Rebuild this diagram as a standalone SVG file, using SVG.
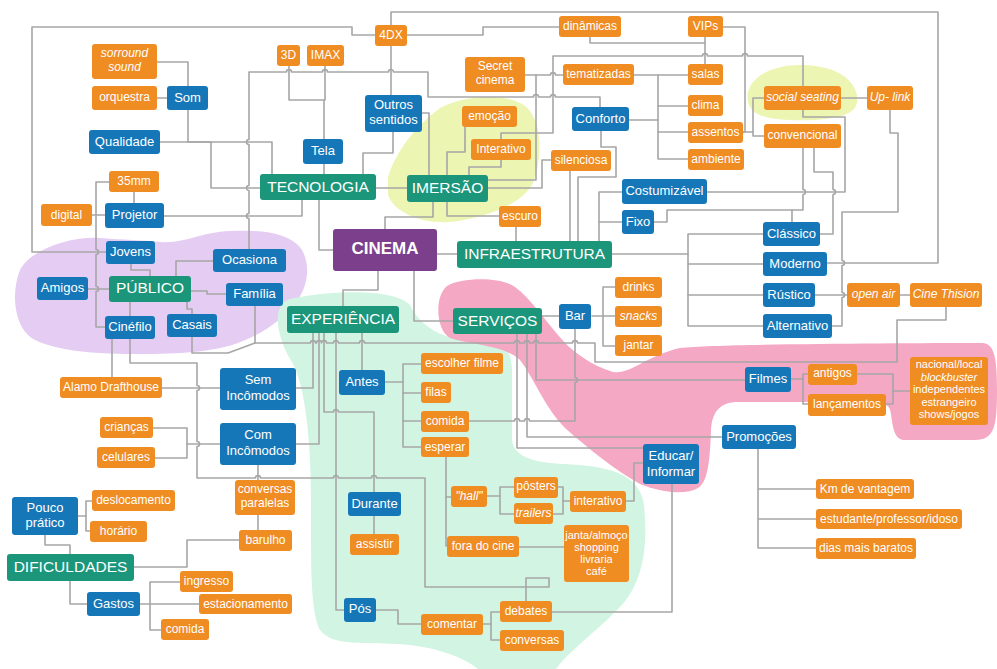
<svg xmlns="http://www.w3.org/2000/svg" width="997" height="669" viewBox="0 0 997 669">
  <style>
    .blob { stroke: none; }
    .links path { fill: none; stroke: #A6A6A6; stroke-width: 1.6; stroke-linejoin: round; stroke-linecap: round; }
    .o rect { fill: #EF8C22; }
    .b rect { fill: #1677B8; }
    .g rect { fill: #1B967A; }
    .c rect { fill: #7C3F8B; }
    text { fill: #FFFFFF; font-family: "Liberation Sans", Arial, sans-serif; text-anchor: middle; dominant-baseline: central; }
    .o text { font-size: 12px; }
    .b text { font-size: 13px; }
    .g text { font-size: 15.5px; }
    .c text { font-size: 17px; font-weight: bold; }
    .it { font-style: italic; }
    .sm { font-size: 11px !important; }
  </style>

  <!-- background regions -->
  <g id="regions">
    <path class="blob" fill="#E4CCF3" d="M20 270 C 30 250, 70 236, 100 238 C 125 240, 140 240, 160 242 C 185 244, 200 232, 230 231 C 260 230, 290 232, 302 250 C 312 268, 306 290, 296 302 C 285 318, 262 335, 235 344 C 210 352, 180 354, 140 354 C 100 354, 60 352, 35 340 C 15 330, 10 295, 20 270 Z"/>
    <path class="blob" fill="#EDF5B3" d="M388 178 C 392 160, 410 130, 440 108 C 465 95, 505 92, 525 106 C 543 120, 543 160, 532 185 C 520 205, 485 218, 450 222 C 420 224, 394 212, 388 195 Z"/>
    <path class="blob" fill="#EDF5B3" d="M748 92 C 752 75, 775 65, 800 65 C 830 65, 852 75, 857 95 C 860 112, 845 118, 815 120 C 790 121, 762 120, 752 110 C 747 104, 747 98, 748 92 Z"/>
    <path class="blob" fill="#D2F5E3" d="M290 299 C 330 290, 395 288, 410 305 C 420 325, 440 342, 488 342 C 506 342, 512 352, 512 372 L 512 438 C 512 456, 532 463, 565 464 C 605 466, 640 472, 644 505 C 648 545, 644 582, 620 607 C 596 632, 570 650, 556 669 L 478 669 C 462 656, 432 646, 398 644 C 360 642, 332 646, 320 630 C 310 612, 311 560, 311 500 C 311 440, 305 385, 292 362 C 280 345, 268 305, 290 299 Z"/>
    <path class="blob" fill="#F5A8C3" d="M447 286 C 460 278, 500 276, 515 287 C 530 298, 545 320, 558 335 C 570 350, 590 365, 613 372 C 630 375, 648 355, 680 348 C 720 344, 900 343, 982 343 C 995 343, 997 360, 997 390 C 997 425, 995 440, 975 440 L 905 440 C 895 440, 893 430, 891 414 C 890 405, 885 402, 870 402 L 738 402 C 722 402, 712 410, 711 430 C 710 460, 708 482, 698 488 C 685 496, 660 492, 640 484 C 615 470, 590 450, 565 428 C 545 408, 535 380, 520 360 C 505 345, 470 345, 450 338 C 436 330, 434 297, 447 286 Z"/>
  </g>

  <!-- connectors (small arcs mark crossings) -->
  <g id="connectors" class="links">
    <path d="M106 252 H32 V27 H352 V35 H375"/>
    <path d="M391 25 V12 H938 V263 H827"/>
    <path d="M391 46 V95"/>
    <path d="M407 35 H483 V27 H559"/>
    <path d="M590 37 V43 H705"/>
    <path d="M705 37 V64"/>
    <path d="M723 27 H745 V132 H743"/>
    <path d="M743 132 H753 V98 H764"/>
    <path d="M753 132 V136 H764"/>
    <path d="M501 139 V133 H553 V56 H702.5 a2.5 2.5 0 0 1 5 0 H742.5 a2.5 2.5 0 0 1 5 0 H803 V86"/>
    <path d="M707 192 H845 V117 H803 V110"/>
    <path d="M841 98 H867"/>
    <path d="M890 110 V133 H898 V212 H842 V260.5 a2.5 2.5 0 0 1 0 5 V292.5 a2.5 2.5 0 0 1 0 5 V326 H832"/>
    <path d="M803 148 V189.5 a2.5 2.5 0 0 1 0 5 V210 H667 V222 H654"/>
    <path d="M792 210 V222"/>
    <path d="M814 148 V172 H833 V189.5 a2.5 2.5 0 0 1 0 5 V234 H820"/>
    <path d="M525 75 H550.5 a2.5 2.5 0 0 1 5 0 H563"/>
    <path d="M634 75 H688"/>
    <path d="M658 75 V159 H688"/>
    <path d="M658 106 H688"/>
    <path d="M658 132 H688"/>
    <path d="M629 120 H658"/>
    <path d="M488 180 H536 V75"/>
    <path d="M488 188 H542 V160 H551"/>
    <path d="M469 175 V167 H501 V160"/>
    <path d="M447 175 V152 H465 V127"/>
    <path d="M422 113 H429 V175"/>
    <path d="M363 174 V153 H393 V132"/>
    <path d="M376 188 H407"/>
    <path d="M324 164 V174"/>
    <path d="M289 66 V100 H325 V66"/>
    <path d="M324 100 V139"/>
    <path d="M249 249 V218.5 a2.5 2.5 0 0 1 0 -5 V190.5 a2.5 2.5 0 0 1 0 -5 V144.5 a2.5 2.5 0 0 1 0 -5 V72 H286.5 a2.5 2.5 0 0 1 5 0 H322.5 a2.5 2.5 0 0 1 5 0 H388.5 a2.5 2.5 0 0 1 5 0 H428 V97 H533.5 a2.5 2.5 0 0 1 5 0 H550.5 a2.5 2.5 0 0 1 5 0 H600 V107"/>
    <path d="M160 142 H272 V174"/>
    <path d="M188 110 V142 H211 V188 H260"/>
    <path d="M157 62 H188 V86"/>
    <path d="M157 98 H167"/>
    <path d="M164 216 H302 V200"/>
    <path d="M134 192 V203"/>
    <path d="M92 215 H105"/>
    <path d="M109 182 H96 V249.5 a2.5 2.5 0 0 1 0 5 V286.5 a2.5 2.5 0 0 1 0 5 V327 H105"/>
    <path d="M319 200 V250 H333"/>
    <path d="M433 202 V217 H385 V229"/>
    <path d="M447 202 V216 H499"/>
    <path d="M516 227 V241"/>
    <path d="M570 171 V241"/>
    <path d="M601 131 V147 H616 V177 H578 V241"/>
    <path d="M599 241 V192 H622"/>
    <path d="M599 222 H622"/>
    <path d="M437 254 H457"/>
    <path d="M612 254 H688"/>
    <path d="M763 234 H688 V326 H763"/>
    <path d="M688 264 H763"/>
    <path d="M688 295 H763"/>
    <path d="M815 295 H847"/>
    <path d="M900 295 H910"/>
    <path d="M255 306 V343 H310.5 a2.5 2.5 0 0 1 5 0 H316.5 a2.5 2.5 0 0 1 5 0 H321.5 a2.5 2.5 0 0 1 5 0 H333.5 a2.5 2.5 0 0 1 5 0 H359.5 a2.5 2.5 0 0 1 5 0 H514.5 a2.5 2.5 0 0 1 5 0 H524.5 a2.5 2.5 0 0 1 5 0 H533.5 a2.5 2.5 0 0 1 5 0 H572.5 a2.5 2.5 0 0 1 5 0 H595 V362 H897 V320 H946 V307"/>
    <path d="M192 337 V353 H228 L255 343"/>
    <path d="M378 271 V290 H343 V306"/>
    <path d="M414 271 V321 H453"/>
    <path d="M542 316 H559"/>
    <path d="M592 316 H615"/>
    <path d="M615 287 H603 V346 H615"/>
    <path d="M517 334 V448 H643"/>
    <path d="M527 334 V437 H722"/>
    <path d="M536 334 V380 H745"/>
    <path d="M575 329 V377.5 a2.5 2.5 0 0 1 0 5 V421 H529.5 a2.5 2.5 0 0 0 -5 0 H519.5 a2.5 2.5 0 0 0 -5 0 H469"/>
    <path d="M791 379 H803"/>
    <path d="M808 374 H803 V404 H808"/>
    <path d="M857 374 H893 V404 H886"/>
    <path d="M893 391 H910"/>
    <path d="M758 449 V548 H816"/>
    <path d="M758 489 H816"/>
    <path d="M758 519 H816"/>
    <path d="M131 264 V270 H150 V276"/>
    <path d="M176 276 V261 H213"/>
    <path d="M191 291 H207 V294 H226"/>
    <path d="M88 289 H109"/>
    <path d="M130 302 V316"/>
    <path d="M187 302 V309 H192 V314"/>
    <path d="M112 339 V377"/>
    <path d="M130 339 V363 H197 V385.5 a2.5 2.5 0 0 1 0 5 V441.5 a2.5 2.5 0 0 1 0 5 V478 H255.5 a2.5 2.5 0 0 1 5 0 H333.5 a2.5 2.5 0 0 1 5 0 H371.5 a2.5 2.5 0 0 1 5 0 H425 V587 H549 V578 H526 V601"/>
    <path d="M162 388 H220"/>
    <path d="M313 333 V388 H296"/>
    <path d="M319 333 V444 H296"/>
    <path d="M324 333 V412 H333.5 a2.5 2.5 0 0 1 5 0 H374 V492"/>
    <path d="M336 333 V610 H344"/>
    <path d="M362 333 V370"/>
    <path d="M220 444 H187 V428 H153"/>
    <path d="M187 444 V458 H155"/>
    <path d="M258 465 V480"/>
    <path d="M258 515 V530"/>
    <path d="M134 567 H187 V540 H239"/>
    <path d="M70 554 V545 H45 V535"/>
    <path d="M70 581 V604 H87"/>
    <path d="M140 604 H199"/>
    <path d="M180 582 H150 V630 H161"/>
    <path d="M78 516 H86"/>
    <path d="M92 501 H86 V531 H90"/>
    <path d="M385 382 H403"/>
    <path d="M421 364 H403 V447 H421"/>
    <path d="M403 393 H421"/>
    <path d="M403 421 H421"/>
    <path d="M446 457 V546 H447"/>
    <path d="M446 497 H451"/>
    <path d="M487 496 H500"/>
    <path d="M514 487 H500 V514 H514"/>
    <path d="M558 487 H563 V514 H553"/>
    <path d="M563 501 H570"/>
    <path d="M626 501 H634 V463 H643"/>
    <path d="M519 547 H564"/>
    <path d="M374 516 V534"/>
    <path d="M376 610 H398 V624 H421"/>
    <path d="M483 624 H491"/>
    <path d="M500 612 H491 V640 H500"/>
    <path d="M552 612 H672 V484"/>
  </g>

  <!-- nodes -->
  <g id="n-sorround" class="o"><rect x="92" y="44" width="65" height="35" rx="3"/><text class="it" x="124.5" y="53">sorround</text><text class="it" x="124.5" y="67">sound</text></g>
  <g id="n-orquestra" class="o"><rect x="92" y="86" width="65" height="24" rx="3"/><text x="124.5" y="97">orquestra</text></g>
  <g id="n-som" class="b"><rect x="167" y="86" width="41" height="24" rx="3"/><text x="187.5" y="97">Som</text></g>
  <g id="n-qualidade" class="b"><rect x="89" y="130" width="71" height="24" rx="3"/><text x="124.5" y="141">Qualidade</text></g>
  <g id="n-35mm" class="o"><rect x="109" y="171" width="50" height="21" rx="3"/><text x="134" y="181">35mm</text></g>
  <g id="n-projetor" class="b"><rect x="105" y="203" width="59" height="25" rx="3"/><text x="134.5" y="214.5">Projetor</text></g>
  <g id="n-digital" class="o"><rect x="41" y="204" width="51" height="22" rx="3"/><text x="66.5" y="214.5">digital</text></g>
  <g id="n-3d" class="o"><rect x="277" y="45" width="23" height="21" rx="3"/><text x="288.5" y="55">3D</text></g>
  <g id="n-imax" class="o"><rect x="307" y="45" width="37" height="21" rx="3"/><text x="325.5" y="55">IMAX</text></g>
  <g id="n-tela" class="b"><rect x="303" y="139" width="40" height="25" rx="3"/><text x="323" y="150.5">Tela</text></g>
  <g id="n-tecnologia" class="g"><rect x="260" y="174" width="116" height="26" rx="3"/><text x="318" y="186">TECNOLOGIA</text></g>
  <g id="n-4dx" class="o"><rect x="375" y="25" width="32" height="21" rx="3"/><text x="391" y="35">4DX</text></g>
  <g id="n-dinamicas" class="o"><rect x="559" y="16" width="62" height="21" rx="3"/><text x="590" y="26">dinâmicas</text></g>
  <g id="n-secret" class="o"><rect x="465" y="57" width="60" height="35" rx="3"/><text x="495" y="66">Secret</text><text x="495" y="80">cinema</text></g>
  <g id="n-outros" class="b"><rect x="365" y="95" width="57" height="37" rx="3"/><text x="393.5" y="104">Outros</text><text x="393.5" y="119">sentidos</text></g>
  <g id="n-emocao" class="o"><rect x="462" y="106" width="55" height="21" rx="3"/><text x="489.5" y="116">emoção</text></g>
  <g id="n-interativo1" class="o"><rect x="471" y="139" width="60" height="21" rx="3"/><text x="501" y="149">Interativo</text></g>
  <g id="n-imersao" class="g"><rect x="407" y="175" width="81" height="27" rx="3"/><text x="447.5" y="187.5">IMERSÃO</text></g>
  <g id="n-silenciosa" class="o"><rect x="551" y="150" width="60" height="21" rx="3"/><text x="581" y="160">silenciosa</text></g>
  <g id="n-tematizadas" class="o"><rect x="563" y="64" width="71" height="21" rx="3"/><text x="598.5" y="74">tematizadas</text></g>
  <g id="n-conforto" class="b"><rect x="572" y="107" width="57" height="24" rx="3"/><text x="600.5" y="118">Conforto</text></g>
  <g id="n-escuro" class="o"><rect x="499" y="206" width="42" height="21" rx="3"/><text x="520" y="216">escuro</text></g>
  <g id="n-costumizavel" class="b"><rect x="622" y="179" width="85" height="25" rx="3"/><text x="664.5" y="190.5">Costumizável</text></g>
  <g id="n-fixo" class="b"><rect x="622" y="210" width="32" height="24" rx="3"/><text x="638" y="221">Fixo</text></g>
  <g id="n-vips" class="o"><rect x="688" y="16" width="35" height="21" rx="3"/><text x="705.5" y="26">VIPs</text></g>
  <g id="n-salas" class="o"><rect x="688" y="64" width="35" height="21" rx="3"/><text x="705.5" y="74">salas</text></g>
  <g id="n-clima" class="o"><rect x="688" y="95" width="35" height="21" rx="3"/><text x="705.5" y="105">clima</text></g>
  <g id="n-assentos" class="o"><rect x="688" y="122" width="55" height="21" rx="3"/><text x="715.5" y="132">assentos</text></g>
  <g id="n-ambiente" class="o"><rect x="688" y="149" width="56" height="21" rx="3"/><text x="716" y="159">ambiente</text></g>
  <g id="n-social" class="o"><rect x="764" y="86" width="77" height="24" rx="3"/><text class="it" x="802.5" y="97">social seating</text></g>
  <g id="n-uplink" class="o"><rect x="867" y="86" width="46" height="24" rx="3"/><text class="it" x="890" y="97">Up- link</text></g>
  <g id="n-convencional" class="o"><rect x="764" y="124" width="77" height="24" rx="3"/><text x="802.5" y="135">convencional</text></g>
  <g id="n-classico" class="b"><rect x="763" y="222" width="57" height="24" rx="3"/><text x="791.5" y="233">Clássico</text></g>
  <g id="n-moderno" class="b"><rect x="763" y="252" width="64" height="24" rx="3"/><text x="795" y="263">Moderno</text></g>
  <g id="n-rustico" class="b"><rect x="763" y="283" width="52" height="24" rx="3"/><text x="789" y="294">Rústico</text></g>
  <g id="n-alternativo" class="b"><rect x="763" y="314" width="69" height="24" rx="3"/><text x="797.5" y="325">Alternativo</text></g>
  <g id="n-openair" class="o"><rect x="847" y="283" width="53" height="24" rx="3"/><text class="it" x="873.5" y="294">open air</text></g>
  <g id="n-thision" class="o"><rect x="910" y="283" width="72" height="24" rx="3"/><text class="it" x="946" y="294">Cine Thision</text></g>
  <g id="n-infra" class="g"><rect x="457" y="241" width="155" height="27" rx="3"/><text x="534.5" y="253.5">INFRAESTRUTURA</text></g>
  <g id="n-cinema" class="c"><rect x="333" y="229" width="104" height="42" rx="3"/><text x="385" y="248">CINEMA</text></g>
  <g id="n-servicos" class="g"><rect x="453" y="308" width="89" height="26" rx="3"/><text x="497.5" y="320">SERVIÇOS</text></g>
  <g id="n-bar" class="b"><rect x="559" y="304" width="32" height="25" rx="3"/><text x="575" y="315">Bar</text></g>
  <g id="n-drinks" class="o"><rect x="615" y="277" width="47" height="21" rx="3"/><text x="638.5" y="287">drinks</text></g>
  <g id="n-snacks" class="o"><rect x="615" y="306" width="47" height="21" rx="3"/><text class="it" x="638.5" y="316">snacks</text></g>
  <g id="n-jantar" class="o"><rect x="615" y="335" width="47" height="21" rx="3"/><text x="638.5" y="345">jantar</text></g>
  <g id="n-experiencia" class="g"><rect x="287" y="306" width="112" height="27" rx="3"/><text x="343" y="318">EXPERIÊNCIA</text></g>
  <g id="n-antes" class="b"><rect x="339" y="370" width="46" height="25" rx="3"/><text x="362" y="381">Antes</text></g>
  <g id="n-escolher" class="o"><rect x="421" y="353" width="82" height="21" rx="3"/><text x="462" y="363">escolher filme</text></g>
  <g id="n-filas" class="o"><rect x="421" y="382" width="30" height="21" rx="3"/><text x="436" y="392">filas</text></g>
  <g id="n-comida1" class="o"><rect x="421" y="411" width="48" height="21" rx="3"/><text x="445" y="421">comida</text></g>
  <g id="n-esperar" class="o"><rect x="421" y="437" width="48" height="20" rx="3"/><text x="445" y="446.5">esperar</text></g>
  <g id="n-sem" class="b"><rect x="220" y="368" width="76" height="42" rx="3"/><text x="258" y="379">Sem</text><text x="258" y="395">Incômodos</text></g>
  <g id="n-com" class="b"><rect x="220" y="423" width="76" height="42" rx="3"/><text x="258" y="434">Com</text><text x="258" y="450">Incômodos</text></g>
  <g id="n-alamo" class="o"><rect x="60" y="377" width="102" height="21" rx="3"/><text x="111" y="387">Alamo Drafthouse</text></g>
  <g id="n-criancas" class="o"><rect x="100" y="417" width="53" height="21" rx="3"/><text x="126.5" y="427">crianças</text></g>
  <g id="n-celulares" class="o"><rect x="97" y="447" width="58" height="21" rx="3"/><text x="126" y="457">celulares</text></g>
  <g id="n-jovens" class="b"><rect x="106" y="241" width="49" height="23" rx="3"/><text x="130.5" y="251.5">Jovens</text></g>
  <g id="n-ocasiona" class="b"><rect x="213" y="249" width="73" height="23" rx="3"/><text x="249.5" y="259.5">Ocasiona</text></g>
  <g id="n-publico" class="g"><rect x="109" y="276" width="82" height="26" rx="3"/><text x="150" y="287">PÚBLICO</text></g>
  <g id="n-amigos" class="b"><rect x="37" y="277" width="51" height="23" rx="3"/><text x="62.5" y="287.5">Amigos</text></g>
  <g id="n-familia" class="b"><rect x="226" y="283" width="57" height="23" rx="3"/><text x="254.5" y="293.5">Família</text></g>
  <g id="n-cinefilo" class="b"><rect x="105" y="316" width="50" height="23" rx="3"/><text x="130" y="326.5">Cinéfilo</text></g>
  <g id="n-casais" class="b"><rect x="167" y="314" width="50" height="23" rx="3"/><text x="192" y="324.5">Casais</text></g>
  <g id="n-pouco" class="b"><rect x="12" y="497" width="66" height="38" rx="3"/><text x="45" y="507">Pouco</text><text x="45" y="522">prático</text></g>
  <g id="n-deslocamento" class="o"><rect x="92" y="490" width="83" height="21" rx="3"/><text x="133.5" y="500">deslocamento</text></g>
  <g id="n-horario" class="o"><rect x="90" y="521" width="57" height="21" rx="3"/><text x="118.5" y="531">horário</text></g>
  <g id="n-dificuldades" class="g"><rect x="7" y="554" width="127" height="27" rx="3"/><text x="70.5" y="566">DIFICULDADES</text></g>
  <g id="n-gastos" class="b"><rect x="87" y="592" width="53" height="24" rx="3"/><text x="113.5" y="603">Gastos</text></g>
  <g id="n-ingresso" class="o"><rect x="180" y="571" width="53" height="21" rx="3"/><text x="206.5" y="581">ingresso</text></g>
  <g id="n-estacionamento" class="o"><rect x="199" y="594" width="93" height="20" rx="3"/><text x="245.5" y="603.5">estacionamento</text></g>
  <g id="n-comida2" class="o"><rect x="161" y="619" width="48" height="21" rx="3"/><text x="185" y="629">comida</text></g>
  <g id="n-conversas-paralelas" class="o"><rect x="235" y="480" width="60" height="35" rx="3"/><text x="265" y="489">conversas</text><text x="265" y="503">paralelas</text></g>
  <g id="n-barulho" class="o"><rect x="239" y="530" width="53" height="21" rx="3"/><text x="265.5" y="540">barulho</text></g>
  <g id="n-durante" class="b"><rect x="348" y="492" width="53" height="24" rx="3"/><text x="374.5" y="503">Durante</text></g>
  <g id="n-assistir" class="o"><rect x="350" y="534" width="49" height="21" rx="3"/><text x="374.5" y="544">assistir</text></g>
  <g id="n-pos" class="b"><rect x="344" y="598" width="32" height="24" rx="3"/><text x="360" y="608">Pós</text></g>
  <g id="n-comentar" class="o"><rect x="421" y="614" width="62" height="21" rx="3"/><text x="452" y="624">comentar</text></g>
  <g id="n-debates" class="o"><rect x="500" y="601" width="52" height="21" rx="3"/><text x="526" y="611">debates</text></g>
  <g id="n-conversas" class="o"><rect x="500" y="630" width="64" height="21" rx="3"/><text x="532" y="640">conversas</text></g>
  <g id="n-hall" class="o"><rect x="451" y="486" width="36" height="21" rx="3"/><text class="it" x="469" y="496">"hall"</text></g>
  <g id="n-posters" class="o"><rect x="514" y="477" width="44" height="21" rx="3"/><text x="536" y="486">pôsters</text></g>
  <g id="n-trailers" class="o"><rect x="514" y="503" width="39" height="21" rx="3"/><text class="it" x="533.5" y="513">trailers</text></g>
  <g id="n-interativo2" class="o"><rect x="570" y="491" width="56" height="21" rx="3"/><text x="598" y="501">interativo</text></g>
  <g id="n-fora" class="o"><rect x="447" y="536" width="72" height="21" rx="3"/><text x="483" y="546">fora do cine</text></g>
  <g id="n-janta" class="o"><rect x="564" y="525" width="65" height="57" rx="3"/><text class="sm" x="596.5" y="535">janta/almoço</text><text class="sm" x="596.5" y="547">shopping</text><text class="sm" x="596.5" y="559">livraria</text><text class="sm" x="596.5" y="571">café</text></g>
  <g id="n-educar" class="b"><rect x="643" y="444" width="56" height="40" rx="3"/><text x="671" y="455">Educar/</text><text x="671" y="471">Informar</text></g>
  <g id="n-promocoes" class="b"><rect x="722" y="425" width="74" height="24" rx="3"/><text x="759" y="436">Promoções</text></g>
  <g id="n-km" class="o"><rect x="816" y="479" width="98" height="20" rx="3"/><text x="865" y="488.5">Km de vantagem</text></g>
  <g id="n-estudante" class="o"><rect x="816" y="509" width="146" height="20" rx="3"/><text x="889" y="518.5">estudante/professor/idoso</text></g>
  <g id="n-dias" class="o"><rect x="816" y="538" width="100" height="21" rx="3"/><text x="866" y="548">dias mais baratos</text></g>
  <g id="n-filmes" class="b"><rect x="745" y="367" width="46" height="25" rx="3"/><text x="768" y="378">Filmes</text></g>
  <g id="n-antigos" class="o"><rect x="808" y="364" width="49" height="21" rx="3"/><text x="832.5" y="373">antigos</text></g>
  <g id="n-lancamentos" class="o"><rect x="808" y="394" width="78" height="22" rx="3"/><text x="847" y="404">lançamentos</text></g>
  <g id="n-generos" class="o"><rect x="910" y="357" width="78" height="68" rx="3"/><text class="sm" x="949" y="364">nacional/local</text><text class="sm it" x="949" y="377">blockbuster</text><text class="sm" x="949" y="389">independentes</text><text class="sm" x="949" y="402">estrangeiro</text><text class="sm" x="949" y="414">shows/jogos</text></g>
</svg>
